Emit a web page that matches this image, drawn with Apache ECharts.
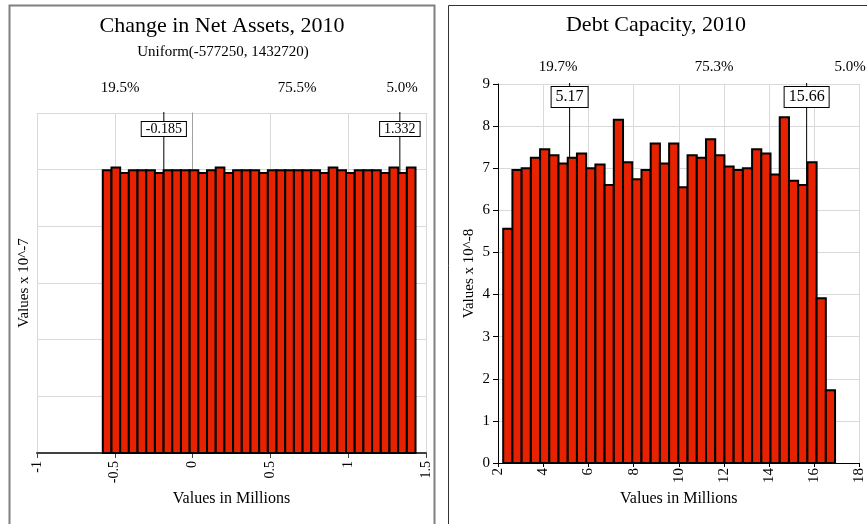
<!DOCTYPE html>
<html>
<head>
<meta charset="utf-8">
<script src="https://cdn.jsdelivr.net/npm/echarts@6/dist/echarts.min.js"></script>
<style>
html,body{margin:0;padding:0;background:#fff}
#main{width:867px;height:524px}
</style>
</head>
<body>
<div id="main"></div>
<script>
var serif = 'Liberation Serif';
var red = '#e62200';

// left histogram: change in net assets (values x 10^-7)
var netStart = -0.5772;
var netBin = 0.05583;
var netValues = [4.99,5.04,4.94,4.99,4.99,4.99,4.94,4.99,4.99,4.99,4.99,4.94,4.99,5.04,4.94,4.99,4.99,4.99,
                 4.94,4.99,4.99,4.99,4.99,4.99,4.99,4.94,5.04,4.99,4.94,4.99,4.99,4.99,4.94,5.04,4.94,5.04];
var netDelims = [-0.185, 1.332];
var netDelimLabels = ['-0.185', '1.332'];
var netPcts = ['19.5%', '75.5%', '5.0%'];

// right histogram: debt capacity (values x 10^-8)
var debtStart = 2.23;
var debtBin = 0.408;
var debtValues = [5.56,6.96,7.00,7.25,7.45,7.31,7.11,7.25,7.35,7.00,7.09,6.60,8.15,7.14,6.74,6.96,7.59,7.11,
                  7.59,6.55,7.31,7.25,7.69,7.31,7.04,6.96,7.00,7.45,7.35,6.85,8.21,6.70,6.60,7.14,3.91,1.73];
var debtDelims = [5.17, 15.66];
var debtDelimLabels = ['5.17', '15.66'];
var debtPcts = ['19.7%', '75.3%', '5.0%'];

function bins(start, w, vals) {
    let out = [];
    for (let i = 0; i < vals.length; ++i) {
        out.push([start + i * w, start + (i + 1) * w, vals[i]]);
    }
    return out;
}

function barItem(params, api) {
    var a = api.coord([api.value(0), api.value(2)]);
    var b = api.coord([api.value(1), 0]);
    return {
        type: 'rect',
        shape: { x: a[0], y: a[1], width: b[0] - a[0], height: b[1] - a[1] },
        style: { fill: red, stroke: '#000', lineWidth: 2 }
    };
}

function delimItem(ymax, fontSize, offset, pad) {
    return function (params, api) {
        var top = api.coord([api.value(0), ymax]);
        var bot = api.coord([api.value(0), 0]);
        return {
            type: 'group',
            children: [{
                type: 'line',
                shape: { x1: top[0], y1: top[1] - 1, x2: bot[0], y2: bot[1] },
                style: { stroke: '#000', lineWidth: 1 }
            }, {
                type: 'text',
                x: top[0], y: top[1] + offset,
                style: {
                    text: api.value(1), fill: '#000',
                    font: fontSize + 'px "Liberation Serif"',
                    align: 'center', verticalAlign: 'top',
                    backgroundColor: '#fff', borderColor: '#000', borderWidth: 1,
                    padding: pad
                }
            }]
        };
    };
}

function txt(x, y, s, size) {
    return {
        type: 'text', x: x, y: y, z: 10,
        style: { text: s, fill: '#000', font: size + 'px "Liberation Serif"', align: 'center', verticalAlign: 'middle' }
    };
}

var myChart = echarts.init(document.getElementById('main'));

var gridLine = { show: true, lineStyle: { color: '#d9d9d9', width: 1 } };

option = {
    animation: false,
    textStyle: { fontFamily: serif },
    graphic: [
        { type: 'rect', shape: { x: 9.5, y: 5.5, width: 425, height: 530 }, style: { fill: 'none', stroke: '#808080', lineWidth: 2 } },
        { type: 'rect', shape: { x: 448.5, y: 5.5, width: 430, height: 530 }, style: { fill: 'none', stroke: '#333', lineWidth: 1 } },
        txt(222, 26, 'Change in Net Assets, 2010', 22),
        txt(223, 52, 'Uniform(-577250, 1432720)', 15),
        txt(120, 88, netPcts[0], 15),
        txt(297, 88, netPcts[1], 15),
        txt(402, 88, netPcts[2], 15),
        txt(656, 25, 'Debt Capacity, 2010', 22),
        txt(558, 67, debtPcts[0], 15),
        txt(714, 67, debtPcts[1], 15),
        txt(850, 67, debtPcts[2], 15)
    ],
    grid: [
        { left: 37, top: 113, width: 389, height: 340 },
        { left: 498, top: 84, width: 366, height: 379 }
    ],
    xAxis: [{
        gridIndex: 0, type: 'value', min: -1, max: 1.5, interval: 0.5,
        axisLine: { lineStyle: { color: '#404040', width: 2 } },
        axisTick: { show: true, length: 5, lineStyle: { color: '#404040' } },
        axisLabel: { rotate: 90, fontSize: 14, color: '#000', margin: 8, fontFamily: serif },
        splitLine: gridLine,
        name: 'Values in Millions', nameLocation: 'middle', nameGap: 33,
        nameTextStyle: { fontSize: 16, color: '#000', fontFamily: serif }
    }, {
        gridIndex: 1, type: 'value', min: 2, max: 18, interval: 2,
        axisLine: { lineStyle: { color: '#000', width: 1 } },
        axisTick: { show: true, length: 4, lineStyle: { color: '#000' } },
        axisLabel: { rotate: 90, fontSize: 15, color: '#000', margin: 5, fontFamily: serif },
        splitLine: gridLine,
        name: 'Values in Millions', nameLocation: 'middle', nameGap: 28,
        nameTextStyle: { fontSize: 16, color: '#000', fontFamily: serif }
    }],
    yAxis: [{
        gridIndex: 0, type: 'value', min: 0, max: 6, interval: 1,
        axisLine: { show: true, lineStyle: { color: '#a0a0a0' } },
        axisTick: { show: false },
        axisLabel: { show: false },
        splitLine: gridLine,
        name: 'Values x 10^-7', nameLocation: 'middle', nameGap: 5, nameRotate: 90,
        nameTextStyle: { fontSize: 15, color: '#000', fontFamily: serif }
    }, {
        gridIndex: 1, type: 'value', min: 0, max: 9, interval: 1,
        axisLine: { show: true, lineStyle: { color: '#000' } },
        axisTick: { show: true, length: 5, lineStyle: { color: '#000' } },
        axisLabel: { fontSize: 15, color: '#000', margin: 8, fontFamily: serif },
        splitLine: gridLine,
        name: 'Values x 10^-8', nameLocation: 'middle', nameGap: 21, nameRotate: 90,
        nameTextStyle: { fontSize: 15, color: '#000', fontFamily: serif }
    }],
    series: [{
        type: 'custom', xAxisIndex: 0, yAxisIndex: 0, z: 1,
        renderItem: delimItem(6, 14, 9, [0, 4]),
        data: netDelims.map(function (d, i) { return [d, netDelimLabels[i]]; })
    }, {
        type: 'custom', xAxisIndex: 0, yAxisIndex: 0, z: 2,
        renderItem: barItem, encode: { x: [0, 1], y: 2 },
        data: bins(netStart, netBin, netValues)
    }, {
        type: 'custom', xAxisIndex: 1, yAxisIndex: 1, z: 1,
        renderItem: delimItem(9, 16, 3, [2, 4]),
        data: debtDelims.map(function (d, i) { return [d, debtDelimLabels[i]]; })
    }, {
        type: 'custom', xAxisIndex: 1, yAxisIndex: 1, z: 2,
        renderItem: barItem, encode: { x: [0, 1], y: 2 },
        data: bins(debtStart, debtBin, debtValues)
    }]
};

myChart.setOption(option);
</script>
</body>
</html>
